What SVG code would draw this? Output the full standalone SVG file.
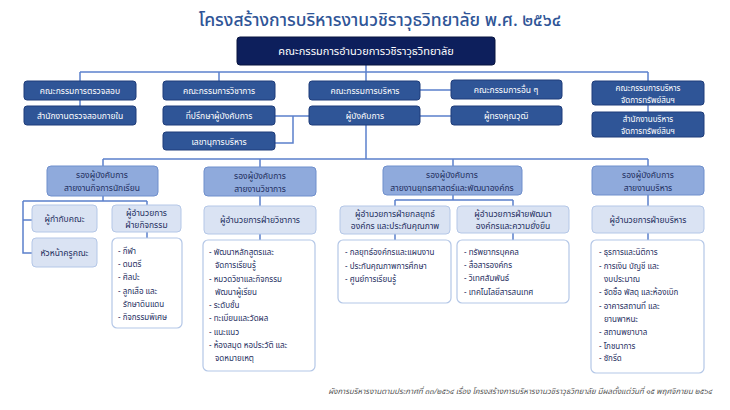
<svg xmlns="http://www.w3.org/2000/svg" width="730" height="410" viewBox="0 0 730 410">
<style>
text{font-family:"Noto Sans Thai","Noto Sans","DejaVu Sans",sans-serif;}
.title{font-size:17.5px;fill:#2f5597;text-anchor:middle;font-weight:500;}
.top rect{fill:#0d1f5c;stroke:#08153f;stroke-width:1;}
.top text{fill:#fff;font-size:11px;text-anchor:middle;}
.r1 rect{fill:#2f5597;stroke:#1f3d7a;stroke-width:1;}
.r1 text{fill:#fff;font-size:8.5px;text-anchor:middle;}
.r1 text.s{font-size:8px;}
.l2 rect{fill:#8faadc;stroke:#6f8fcc;stroke-width:1;}
.l2 text{fill:#1f2f5f;font-size:8.5px;text-anchor:middle;}
.l3 rect{fill:#dae3f3;stroke:#b4c7e7;stroke-width:1;}
.l3 text{fill:#1f2f5f;font-size:8.5px;text-anchor:middle;}
.lst rect{fill:#fff;stroke:#b4c7e7;stroke-width:1.2;}
.lst text{fill:#1f2f5f;font-size:8px;}
.conn{fill:none;stroke:#5b80cc;stroke-width:1.5;}
.foot{font-size:7.8px;fill:#555;font-style:italic;text-anchor:end;}
</style>
<rect width="730" height="410" fill="#fff"/>
<text class="title" x="380" y="26">โครงสร้างการบริหารงานวชิราวุธวิทยาลัย  พ.ศ. ๒๕๖๔</text>

<g id="connectors" class="conn">
<path d="M80,72H648"/>
<path d="M80,72V81M219,72V81M366,65V81M648,72V81"/>
<path d="M80,100V106"/>
<path d="M648,105V112"/>
<path d="M275,116H309M293,116V143H275"/>
<path d="M420,90H451M420,116H451"/>
<path d="M366,125V159"/>
<path d="M103,159H648M103,159V166M260,159V167M453,159V166M648,159V166"/>
<path d="M103,196V201M23,201H147M23,201V253H32M23,220H32M147,201V205M147,232V238"/>
<path d="M260,196V206M260,234V240"/>
<path d="M453,195V200M395,200H513M395,200V206M513,200V206M395,234V240M513,233V240"/>
<path d="M648,195V206M648,233V240"/>
</g>

<g id="n-board" class="top"><rect x="237" y="37" width="258" height="28" rx="3"/><text x="366" y="55">คณะกรรมการอำนวยการวชิราวุธวิทยาลัย</text></g>

<g id="n-audit" class="r1"><rect x="24" y="81" width="112" height="19" rx="3"/><text x="80" y="94">คณะกรรมการตรวจสอบ</text></g>
<g id="n-audit-office" class="r1"><rect x="24" y="106" width="112" height="19" rx="3"/><text x="80" y="119">สำนักงานตรวจสอบภายใน</text></g>
<g id="n-academic-committee" class="r1"><rect x="163" y="81" width="112" height="19" rx="3"/><text x="219" y="94">คณะกรรมการวิชาการ</text></g>
<g id="n-advisor" class="r1"><rect x="163" y="106" width="112" height="19" rx="3"/><text x="219" y="119">ที่ปรึกษาผู้บังคับการ</text></g>
<g id="n-secretary" class="r1"><rect x="163" y="132" width="112" height="18" rx="3"/><text x="219" y="145">เลขานุการบริหาร</text></g>
<g id="n-exec-committee" class="r1"><rect x="309" y="81" width="111" height="19" rx="3"/><text x="365" y="94">คณะกรรมการบริหาร</text></g>
<g id="n-headmaster" class="r1"><rect x="309" y="106" width="111" height="19" rx="3"/><text x="365" y="119">ผู้บังคับการ</text></g>
<g id="n-other-committee" class="r1"><rect x="451" y="80" width="111" height="19" rx="3"/><text x="506" y="93">คณะกรรมการอื่น ๆ</text></g>
<g id="n-experts" class="r1"><rect x="451" y="106" width="111" height="19" rx="3"/><text x="506" y="119">ผู้ทรงคุณวุฒิ</text></g>
<g id="n-asset-committee" class="r1"><rect x="592" y="81" width="112" height="24" rx="3"/><text class="s" x="648" y="90.5">คณะกรรมการบริหาร</text><text class="s" x="648" y="102.5">จัดการทรัพย์สินฯ</text></g>
<g id="n-asset-office" class="r1"><rect x="592" y="112" width="112" height="25" rx="3"/><text class="s" x="648" y="122">สำนักงานบริหาร</text><text class="s" x="648" y="134">จัดการทรัพย์สินฯ</text></g>

<g id="n-dep-student" class="l2"><rect x="47" y="166" width="111" height="30" rx="4"/><text x="102" y="178">รองผู้บังคับการ</text><text x="102" y="191">สายงานกิจการนักเรียน</text></g>
<g id="n-dep-academic" class="l2"><rect x="204" y="167" width="112" height="29" rx="4"/><text x="260" y="179">รองผู้บังคับการ</text><text x="260" y="192">สายงานวิชาการ</text></g>
<g id="n-dep-strategy" class="l2"><rect x="383" y="166" width="139" height="29" rx="4"/><text x="452" y="178">รองผู้บังคับการ</text><text x="452" y="191">สายงานยุทธศาสตร์และพัฒนาองค์กร</text></g>
<g id="n-dep-admin" class="l2"><rect x="592" y="166" width="112" height="29" rx="4"/><text x="648" y="178">รองผู้บังคับการ</text><text x="648" y="191">สายงานบริหาร</text></g>

<g id="n-house-master" class="l3"><rect x="32" y="205" width="65" height="27" rx="4"/><text x="64.5" y="222">ผู้กำกับคณะ</text></g>
<g id="n-house-head" class="l3"><rect x="32" y="238" width="65" height="29" rx="4"/><text x="64.5" y="256">หัวหน้าครูคณะ</text></g>
<g id="n-dir-activity" class="l3"><rect x="112" y="205" width="69" height="27" rx="4"/><text x="146.5" y="216">ผู้อำนวยการ</text><text x="146.5" y="228">ฝ่ายกิจกรรม</text></g>
<g id="n-dir-academic" class="l3"><rect x="204" y="206" width="112" height="28" rx="4"/><text x="260" y="223">ผู้อำนวยการฝ่ายวิชาการ</text></g>
<g id="n-dir-strategy" class="l3"><rect x="340" y="206" width="110" height="28" rx="4"/><text x="395" y="217">ผู้อำนวยการฝ่ายกลยุทธ์</text><text x="395" y="229">องค์กร และประกันคุณภาพ</text></g>
<g id="n-dir-dev" class="l3"><rect x="457" y="206" width="112" height="27" rx="4"/><text x="513" y="217">ผู้อำนวยการฝ่ายพัฒนา</text><text x="513" y="229">องค์กรและความยั่งยืน</text></g>
<g id="n-dir-admin" class="l3"><rect x="592" y="206" width="112" height="27" rx="4"/><text x="648" y="223">ผู้อำนวยการฝ่ายบริหาร</text></g>

<g id="n-list-activity" class="lst"><rect x="112" y="238" width="70" height="90" rx="5"/>
<text x="118" y="254">- กีฬา</text>
<text x="118" y="267">- ดนตรี</text>
<text x="118" y="280">- ศิลปะ</text>
<text x="118" y="294">- ลูกเสือ และ</text>
<text x="123" y="307">รักษาดินแดน</text>
<text x="118" y="320">- กิจกรรมพิเศษ</text>
</g>
<g id="n-list-academic" class="lst"><rect x="203" y="240" width="112" height="131" rx="5"/>
<text x="209" y="255">- พัฒนาหลักสูตรและ</text>
<text x="215" y="268">จัดการเรียนรู้</text>
<text x="209" y="282">- หมวดวิชาและกิจกรรม</text>
<text x="215" y="295">พัฒนาผู้เรียน</text>
<text x="209" y="308">- ระดับชั้น</text>
<text x="209" y="321">- ทะเบียนและวัดผล</text>
<text x="209" y="335">- แนะแนว</text>
<text x="209" y="348">- ห้องสมุด หอประวัติ และ</text>
<text x="215" y="361">จดหมายเหตุ</text>
</g>
<g id="n-list-strategy" class="lst"><rect x="338" y="240" width="113" height="63" rx="5"/>
<text x="345" y="255">- กลยุทธ์องค์กรและแผนงาน</text>
<text x="345" y="269">- ประกันคุณภาพการศึกษา</text>
<text x="345" y="282">- ศูนย์การเรียนรู้</text>
</g>
<g id="n-list-dev" class="lst"><rect x="457" y="240" width="112" height="63" rx="5"/>
<text x="464" y="255">- ทรัพยากรบุคคล</text>
<text x="464" y="268">- สื่อสารองค์กร</text>
<text x="464" y="281">- วิเทศสัมพันธ์</text>
<text x="464" y="295">- เทคโนโลยีสารสนเทศ</text>
</g>
<g id="n-list-admin" class="lst"><rect x="591" y="240" width="113" height="133" rx="5"/>
<text x="599" y="255">- ธุรการและนิติการ</text>
<text x="599" y="269">- การเงิน บัญชี และ</text>
<text x="604" y="282">งบประมาณ</text>
<text x="599" y="295">- จัดซื้อ พัสดุ และห้องเบิก</text>
<text x="599" y="309">- อาคารสถานที่ และ</text>
<text x="604" y="322">ยานพาหนะ</text>
<text x="599" y="335">- สถานพยาบาล</text>
<text x="599" y="349">- โภชนาการ</text>
<text x="599" y="361">- ซักรีด</text>
</g>

<text class="foot" x="712" y="394">ผังการบริหารงานตามประกาศที่ ๓๓/๒๕๖๔ เรื่อง โครงสร้างการบริหารงานวชิราวุธวิทยาลัย มีผลตั้งแต่วันที่ ๑๕ พฤศจิกายน ๒๕๖๔</text>
</svg>
